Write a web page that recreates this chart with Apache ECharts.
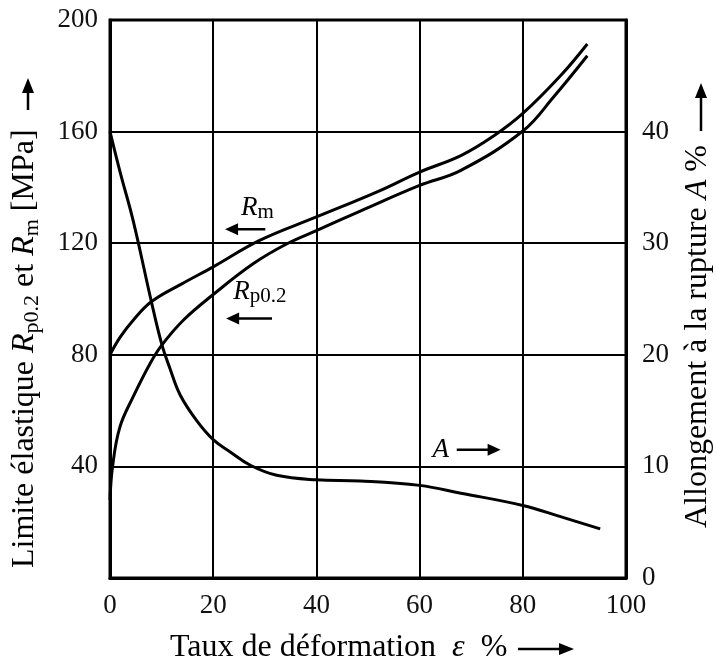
<!DOCTYPE html>
<html>
<head>
<meta charset="utf-8">
<script src="https://cdn.jsdelivr.net/npm/echarts@6/dist/echarts.min.js"></script>
<style>
  html, body { margin: 0; padding: 0; background: #fff; }
  #chart { width: 716px; height: 666px; }
</style>
</head>
<body>
<div id="chart"></div>
<script>
// ---- data ----
const xTickLabels = [0, 20, 40, 60, 80, 100];
const leftTickLabels = [40, 80, 120, 160, 200];
const rightTickLabels = [0, 10, 20, 30, 40];

// Rm (tensile strength, MPa) vs deformation %
const rmX = [0, 2, 4.5, 8, 14, 20, 29, 40, 52, 60, 68, 74.4, 80, 87.3, 92.5];
const rmY = [80, 86.4, 92.4, 99, 105.5, 111.5, 121, 129.4, 138.6, 145.5, 151.4, 158.5, 166.5, 180, 191.4];

// Rp0.2 (yield strength, MPa)
const rpX = [0, 0.5, 1.9, 4.5, 7.8, 10, 14.2, 20, 27.8, 34.3, 40.1, 48.5, 60, 68, 80, 86, 92.5];
const rpY = [28, 40, 54, 65, 77, 83.4, 92.4, 101.6, 112.7, 119.8, 124.6, 131.5, 140.7, 146.1, 160.2, 172.5, 187.2];

// A (elongation at rupture, %)
const aX = [0, 2, 4.5, 8, 10, 11.6, 13.6, 16.8, 20, 23.3, 27.2, 32.3, 40, 48.5, 60, 68, 80, 87.3, 95];
const aY = [40, 36.3, 32.0, 24.8, 21, 18.8, 16.4, 14.1, 12.4, 11.3, 10.1, 9.2, 8.8, 8.7, 8.3, 7.6, 6.5, 5.5, 4.4];

const zip = (xs, ys) => xs.map((x, i) => [x, ys[i]]);
const FONT = 'Liberation Serif';

const chart = echarts.init(document.getElementById('chart'), null, { renderer: 'canvas' });

const lineSeries = (name, xs, ys, yIdx) => ({
  name, type: 'line', data: zip(xs, ys), yAxisIndex: yIdx,
  smooth: 0.4, showSymbol: false, symbol: 'none',
  lineStyle: { color: '#000', width: 3 }, silent: true, z: 5
});

chart.setOption({
  animation: false,
  backgroundColor: '#fff',
  grid: { left: 110, right: 90, top: 20, bottom: 88, show: true, borderColor: '#000', borderWidth: 3, backgroundColor: 'transparent' },
  xAxis: {
    type: 'value', min: 0, max: 100, interval: 20,
    axisLine: { show: true, lineStyle: { color: '#000', width: 3 } },
    axisTick: { show: false },
    splitLine: { show: true, lineStyle: { color: '#000', width: 2 } },
    axisLabel: { margin: 14, fontFamily: FONT, fontSize: 27, color: '#111',
      formatter: v => xTickLabels.includes(v) ? String(v) : '' }
  },
  yAxis: [
    {
      type: 'value', min: 0, max: 200, interval: 40, position: 'left',
      axisLine: { show: true, lineStyle: { color: '#000', width: 3 } },
      axisTick: { show: false },
      splitLine: { show: true, lineStyle: { color: '#000', width: 2 } },
      axisLabel: { margin: 12, fontFamily: FONT, fontSize: 27, color: '#111',
        formatter: v => leftTickLabels.includes(v) ? String(v) : '' }
    },
    {
      type: 'value', min: 0, max: 50, interval: 10, position: 'right',
      axisLine: { show: true, lineStyle: { color: '#000', width: 3 } },
      axisTick: { show: false },
      splitLine: { show: false },
      axisLabel: { margin: 16, fontFamily: FONT, fontSize: 27, color: '#111',
        formatter: v => rightTickLabels.includes(v) ? String(v) : '' }
    }
  ],
  series: [
    lineSeries('Rm', rmX, rmY, 0),
    lineSeries('Rp0.2', rpX, rpY, 0),
    lineSeries('A', aX, aY, 1)
  ]
});

// ---- annotations ----
function arrow(x1, y1, x2, y2, headLen, headHalf, w) {
  const dx = x2 - x1, dy = y2 - y1;
  const L = Math.sqrt(dx * dx + dy * dy);
  const ux = dx / L, uy = dy / L;
  const bx = x2 - ux * headLen, by = y2 - uy * headLen;
  const px = -uy, py = ux;
  return [
    { type: 'line', shape: { x1, y1, x2: bx + ux, y2: by + uy }, style: { stroke: '#000', lineWidth: w }, z: 10 },
    { type: 'polygon', shape: { points: [[x2, y2], [bx + px * headHalf, by + py * headHalf], [bx - px * headHalf, by - py * headHalf]] },
      style: { fill: '#000' }, z: 10 }
  ];
}
const pL = (x, y) => chart.convertToPixel({ xAxisIndex: 0, yAxisIndex: 0 }, [x, y]);
const pR = (x, y) => chart.convertToPixel({ xAxisIndex: 0, yAxisIndex: 1 }, [x, y]);

const titleRich = {
  n: { fontFamily: FONT, fontSize: 32, lineHeight: 36, color: '#111' },
  i: { fontFamily: FONT, fontSize: 32, lineHeight: 36, fontStyle: 'italic', color: '#111' },
  s: { fontFamily: FONT, fontSize: 22, lineHeight: 19, verticalAlign: 'bottom', color: '#111' }
};
const annRich = {
  i: { fontFamily: FONT, fontSize: 27, lineHeight: 30, fontStyle: 'italic', color: '#111' },
  s: { fontFamily: FONT, fontSize: 21, lineHeight: 16, verticalAlign: 'bottom', color: '#111' }
};

const graphics = [];
// axis titles
graphics.push({
  type: 'text', x: 170, y: 648,
  style: { text: '{n|Taux de déformation  }{i|ε}{n|  %}', rich: titleRich, align: 'left', verticalAlign: 'middle' }, z: 10
});
graphics.push(...arrow(518, 649, 574, 649, 15, 6, 2.5));

graphics.push({
  type: 'text', x: 25, y: 568, rotation: Math.PI / 2,
  style: { text: '{n|Limite élastique }{i|R}{s|p0.2}{n| et }{i|R}{s|m}{n| [MPa]}', rich: titleRich, align: 'left', verticalAlign: 'middle' }, z: 10
});
graphics.push(...arrow(28, 110, 28, 78, 15, 6, 2.5));

graphics.push({
  type: 'text', x: 698, y: 528, rotation: Math.PI / 2,
  style: { text: '{n|Allongement à la rupture }{i|A}{n| %}', rich: titleRich, align: 'left', verticalAlign: 'middle' }, z: 10
});
graphics.push(...arrow(701, 131, 701, 83, 15, 6, 2.5));

// curve labels
let p = pL(25.4, 132.5);
graphics.push({ type: 'text', x: p[0], y: p[1], style: { text: '{i|R}{s|m}', rich: annRich, align: 'left', verticalAlign: 'middle' }, z: 10 });
let a = pL(30.1, 125), b = pL(22.3, 125);
graphics.push(...arrow(a[0], a[1], b[0], b[1], 13, 6, 2.5));

p = pL(23.9, 102.4);
graphics.push({ type: 'text', x: p[0], y: p[1], style: { text: '{i|R}{s|p0.2}', rich: annRich, align: 'left', verticalAlign: 'middle' }, z: 10 });
a = pL(31.4, 93); b = pL(22.5, 93);
graphics.push(...arrow(a[0], a[1], b[0], b[1], 13, 6, 2.5));

p = pR(62.5, 11.5);
graphics.push({ type: 'text', x: p[0], y: p[1], style: { text: '{i|A}', rich: annRich, align: 'left', verticalAlign: 'middle' }, z: 10 });
a = pR(67.2, 11.5); b = pR(75.7, 11.5);
graphics.push(...arrow(a[0], a[1], b[0], b[1], 13, 6, 2.5));

chart.setOption({ graphic: graphics });
</script>
</body>
</html>
